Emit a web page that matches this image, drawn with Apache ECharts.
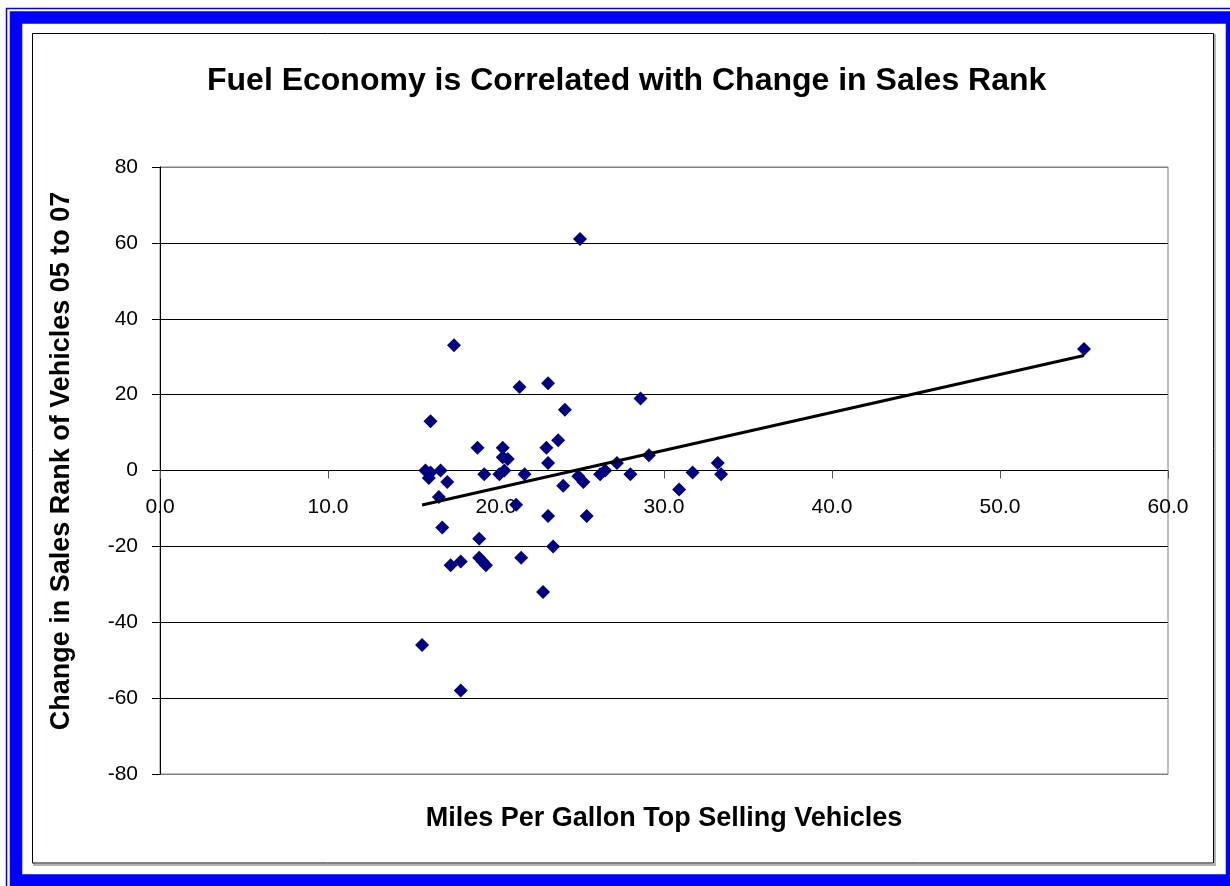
<!DOCTYPE html>
<html><head><meta charset="utf-8">
<script src="https://cdn.jsdelivr.net/npm/echarts@6/dist/echarts.min.js"></script>
<style>html,body{margin:0;padding:0;background:#fff}#c{width:1230px;height:886px}</style>
</head><body><div id="c"></div>
<script>
// Miles per gallon of top-selling vehicles (x) and change in sales rank 05->07 (y)
const mpg = [
  17.5, 16.1, 21.4, 23.1, 24.1, 28.6, 18.9, 20.4, 23.0, 23.7,
  20.4, 20.7, 23.1, 29.1, 27.2, 15.8, 16.1, 16.0, 16.7, 17.1,
  19.3, 20.2, 20.5, 21.7, 24.0, 24.9, 25.2, 26.2, 26.5, 28.0,
  16.6, 21.2, 23.1, 25.4, 16.8, 19.0, 23.4, 17.3, 17.9, 19.0,
  19.2, 19.4, 21.5, 22.8, 15.6, 17.9, 30.9, 31.7, 33.2, 33.4,
  55.0, 25.0
];
const rankChange = [
  33, 13, 22, 23, 16, 19, 6, 6, 6, 8,
  3.5, 3, 2, 4, 2, 0, -0.5, -2, 0, -3,
  -1, -1, 0, -1, -4, -1.5, -3, -1, 0, -1,
  -7, -9, -12, -12, -15, -18, -20, -25, -24, -23,
  -24, -25, -23, -32, -46, -58, -5, -0.5, 2, -1,
  32, 61
];
// Linear trendline end points as drawn in the reference
const trendMpg = [15.6, 55.0];
const trendRank = [-9.1, 30.3];

const chartTitle = 'Fuel Economy is Correlated with Change in Sales Rank';
const xName = 'Miles Per Gallon Top Selling Vehicles';
const yName = 'Change in Sales Rank of Vehicles 05 to 07';

const FONT = '"Liberation Sans", Arial, sans-serif';
const chart = echarts.init(document.getElementById('c'), null, {renderer: 'canvas'});

chart.setOption({
  animation: false,
  backgroundColor: '#fff',
  title: {
    text: chartTitle,
    left: 207,
    top: 65,
    padding: 0,
    textStyle: {fontFamily: FONT, fontSize: 32, fontWeight: 'bold', color: '#000'}
  },
  graphic: [
    {type: 'rect', z: -1, shape: {x: 6.5, y: 8.5, width: 1240, height: 890},
     style: {fill: 'none', stroke: '#0000ff', lineWidth: 1.5}},
    {type: 'rect', z: -1, shape: {x: 16, y: 17.5, width: 1216, height: 863},
     style: {fill: 'none', stroke: '#0000ff', lineWidth: 12.5}},
    {type: 'rect', z: -1, shape: {x: 34, y: 35, width: 1181, height: 830},
     style: {fill: 'none', stroke: '#9a9a9a', lineWidth: 1.5}},
    {type: 'rect', z: -1, shape: {x: 32.5, y: 33.5, width: 1181, height: 829.5},
     style: {fill: '#fff', stroke: '#000', lineWidth: 1}}
  ],
  grid: {left: 160, right: 62, top: 167, bottom: 112, show: true,
         containLabel: false, outerBoundsMode: 'none',
         borderColor: '#808080', borderWidth: 1, backgroundColor: 'transparent'},
  xAxis: {
    type: 'value', min: 0, max: 60, interval: 10,
    position: 'bottom', offset: -303.5,
    axisLine: {show: true, onZero: false, lineStyle: {color: '#000', width: 1}},
    axisTick: {show: true, length: 8, lineStyle: {color: '#555'}},
    axisLabel: {margin: 26, fontSize: 21, color: '#000', fontFamily: FONT,
                formatter: v => v.toFixed(1)},
    splitLine: {show: false},
    name: xName, nameLocation: 'middle', nameGap: 335,
    nameTextStyle: {fontFamily: FONT, fontSize: 27, fontWeight: 'bold', color: '#000'}
  },
  yAxis: {
    type: 'value', min: -80, max: 80, interval: 20,
    axisLine: {show: true, onZero: false, lineStyle: {color: '#000', width: 1}},
    axisTick: {show: true, length: 8, lineStyle: {color: '#000'}},
    axisLabel: {margin: 22, fontSize: 21, color: '#000', fontFamily: FONT},
    splitLine: {show: true, lineStyle: {width: 1,
      color: ['#808080', '#000', '#000', '#000', '#000', '#000', '#000', '#000', '#808080']}},
    name: yName, nameLocation: 'middle', nameGap: 85, nameRotate: 90,
    nameTextStyle: {fontFamily: FONT, fontSize: 27, fontWeight: 'bold', color: '#000',
                    padding: [0, 0, 0, 19]}
  },
  series: [
    {
      type: 'scatter', symbol: 'diamond', symbolSize: 14, z: 2,
      itemStyle: {color: '#000080', opacity: 1},
      data: mpg.map((x, i) => [x, rankChange[i]])
    },
    {
      type: 'line', showSymbol: false, z: 3, silent: true,
      lineStyle: {color: '#000', width: 3},
      data: trendMpg.map((x, i) => [x, trendRank[i]])
    }
  ]
});
</script></body></html>
